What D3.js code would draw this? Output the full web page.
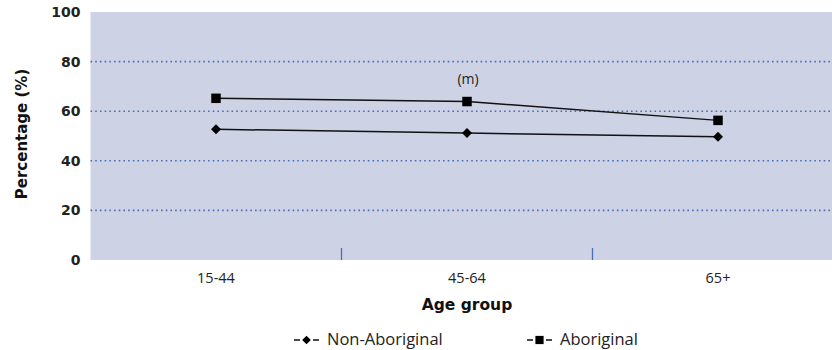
<!DOCTYPE html>
<html><head><meta charset="utf-8">
<script src="https://cdn.jsdelivr.net/npm/d3@7/dist/d3.min.js"></script>
<style>body{margin:0;background:#fff}svg{display:block}</style>
</head><body><svg id="c" width="832" height="350"></svg>
<script>
const categories = ["15-44", "45-64", "65+"];
const nonAboriginal = [52.7, 51.2, 49.7];
const aboriginal = [65.2, 63.9, 56.3];
const yTicks = [0, 20, 40, 60, 80, 100];
const annotations = [{cat: "45-64", label: "(m)"}];

(function () {
const svg = d3.select("#c");
const pL = 90.5, pR = 843.5, pT = 12, pB = 260;
const x = d3.scaleBand().domain(categories).range([pL, pR]);
const y = d3.scaleLinear().domain([0, 100]).range([pB, pT]);
const cx = c => x(c) + x.bandwidth() / 2;
const boldFont = '"DejaVu Sans",Verdana,sans-serif';
const regFont = '"Open Sans","Noto Sans",sans-serif';

svg.append("rect").attr("x", pL).attr("y", pT).attr("width", pR - pL).attr("height", pB - pT).attr("fill", "#cdd2e5");

// grid
svg.append("g").selectAll("line").data(yTicks.filter(t => t > 0 && t < 100)).join("line")
  .attr("x1", pL).attr("x2", pR).attr("y1", d => y(d)).attr("y2", d => y(d))
  .attr("stroke", "#4a6fb5").attr("stroke-width", 1.6).attr("stroke-dasharray", "1.6,3.1");

// y axis labels
const yAxis = d3.axisLeft(y).tickValues(yTicks).tickSize(0).tickPadding(10);
const gy = svg.append("g").attr("transform", `translate(${pL},0)`).call(yAxis);
gy.select(".domain").remove();
gy.selectAll("text").style("font-size", "14px").style("fill", "#222").style("font-weight", 700)
  .style("font-family", boldFont);

// x axis
const xAxis = d3.axisBottom(x).tickSize(0).tickPadding(13);
const gx = svg.append("g").attr("transform", `translate(0,${pB})`).call(xAxis);
gx.select(".domain").remove();
gx.selectAll("text").style("font-size", "14.5px").style("fill", "#222").style("font-family", regFont);

// between-category tick marks
svg.append("g").selectAll("line").data(categories.slice(1)).join("line")
  .attr("x1", d => x(d)).attr("x2", d => x(d)).attr("y1", pB - 12).attr("y2", pB)
  .attr("stroke", "#4a6fb5").attr("stroke-width", 1.3);

// axis titles
svg.append("text").attr("x", 467).attr("y", 309.5).attr("text-anchor", "middle")
  .style("font-family", boldFont).style("font-size", "15.5px").style("font-weight", 700).style("fill", "#111").text("Age group");
svg.append("text").attr("transform", "translate(26.5,134) rotate(-90)").attr("text-anchor", "middle")
  .style("font-family", boldFont).style("font-size", "15px").style("font-weight", 700).style("fill", "#111").text("Percentage (%)");

const line = d3.line().x((d, i) => cx(categories[i])).y(d => y(d));
const series = [
  {name: "Non-Aboriginal", values: nonAboriginal, rot: 45, size: 50},
  {name: "Aboriginal", values: aboriginal, rot: 0, size: 90}
];
series.forEach(s => {
  svg.append("path").attr("d", line(s.values)).attr("fill", "none").attr("stroke", "#111").attr("stroke-width", 1.5);
  svg.append("g").selectAll("path").data(s.values).join("path")
    .attr("transform", (d, i) => `translate(${cx(categories[i])},${y(d)}) rotate(${s.rot})`)
    .attr("d", d3.symbol().type(d3.symbolSquare).size(s.size)).attr("fill", "#000");
});

// annotation
annotations.forEach(a => {
  const i = categories.indexOf(a.cat);
  svg.append("text").attr("x", cx(a.cat) + 1).attr("y", y(aboriginal[i]) - 18)
    .attr("text-anchor", "middle").style("font-family", regFont).style("font-size", "14px").style("fill", "#222").text(a.label);
});

// legend
const legendItems = [{s: series[0], x: 294}, {s: series[1], x: 527}];
legendItems.forEach(li => {
  const g = svg.append("g").attr("transform", `translate(${li.x},340)`);
  g.append("line").attr("x1", 0).attr("x2", 25).attr("y1", 0).attr("y2", 0)
    .attr("stroke", "#111").attr("stroke-width", 1.6).attr("stroke-dasharray", "6,3,7,3,6");
  g.append("path").attr("transform", `translate(12.5,0) rotate(${li.s.rot})`)
    .attr("d", d3.symbol().type(d3.symbolSquare).size(li.s.size * 0.75)).attr("fill", "#000");
  g.append("text").attr("x", 33).attr("y", 5).style("font-family", regFont).style("font-size", "16.5px").style("fill", "#222").text(li.s.name);
});
})();
</script></body></html>
